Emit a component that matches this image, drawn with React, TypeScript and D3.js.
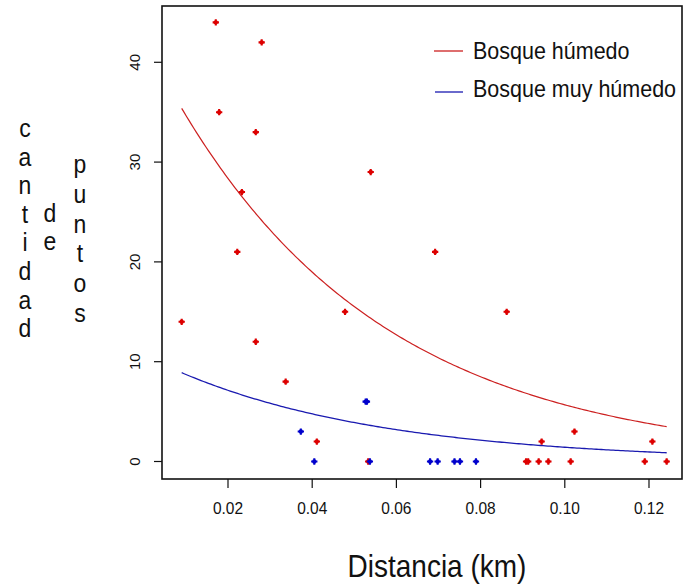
import React from "react";
import * as d3 from "d3";

// Data
const redX = [0.009, 0.0171, 0.0179, 0.0222, 0.0233, 0.0266, 0.0266, 0.028, 0.0337, 0.0411, 0.0478, 0.0533, 0.0539, 0.0692, 0.0862, 0.0908, 0.0913, 0.0938, 0.0945, 0.0961, 0.1014, 0.1023, 0.119, 0.1208, 0.1242];
const redY = [14, 44, 35, 21, 27, 33, 12, 42, 8, 2, 15, 0, 29, 21, 15, 0, 0, 0, 2, 0, 0, 3, 0, 2, 0];
const blueX = [0.0373, 0.0405, 0.0527, 0.053, 0.0537, 0.068, 0.0698, 0.0738, 0.0751, 0.0789];
const blueY = [3, 0, 6, 6, 0, 0, 0, 0, 0, 0];

// fitted exponential models y = a * exp(-b x)
const redModel = { a: 42.4, b: 20.1 };
const blueModel = { a: 10.66, b: 20.1 };
const curveRange = [0.009, 0.1242];

const xTicks = [0.02, 0.04, 0.06, 0.08, 0.1, 0.12];
const xTickLabels = ["0.02", "0.04", "0.06", "0.08", "0.10", "0.12"];
const yTicks = [0, 10, 20, 30, 40];
const legendLabels = ["Bosque húmedo", "Bosque muy húmedo"];
const yTitleCols = ["cantidad", "de", "puntos"];
const xTitle = "Distancia (km)";

const RED = "#dd0000";
const RED_LINE = "#cc2020";
const BLUE = "#0000cc";
const BLUE_LINE = "#1a1ab0";
const FONT = "'Liberation Sans', Arial, sans-serif";
const SY = 1.12;

const W = 683, H = 586;
const box = { l: 162, r: 682, t: 6, b: 479 };
const xScale = d3.scaleLinear().domain([0.004323, 0.12784]).range([box.l, box.r]);
const yScale = d3.scaleLinear().domain([-1.754, 45.64]).range([box.b, box.t]);

function T({ x, y, size, anchor = "start", children }: any) {
  return (
    <text
      transform={`translate(${x},${y}) scale(1,${SY})`}
      fontSize={size}
      textAnchor={anchor}
      fontFamily={FONT}
      fill="#111"
    >
      {children}
    </text>
  );
}

function curve(m: { a: number; b: number }) {
  const xs = d3.range(0, 201).map((i) => curveRange[0] + ((curveRange[1] - curveRange[0]) * i) / 200);
  const line = d3
    .line<number>()
    .x((x) => xScale(x))
    .y((x) => yScale(m.a * Math.exp(-m.b * x)));
  return line(xs) || "";
}

const sym = d3.symbol().type(d3.symbolCross).size(22);

function Marker({ x, y, color }: any) {
  return (
    <g transform={`translate(${x},${y})`}>
      <path d={sym() || ""} fill={color} />
      <circle r={2.2} fill={color} />
    </g>
  );
}

export default function App() {
  const colX = [25, 50, 80];
  const colStart = [137, 222, 173];
  const colStep = [28.6, 28, 29.8];
  return (
    <svg width={W} height={H} style={{ position: "absolute", left: 0, top: 0, background: "#fff" }}>
      <rect x={0} y={0} width={W} height={H} fill="#fff" />
      {/* curves */}
      <path d={curve(redModel)} fill="none" stroke={RED_LINE} strokeWidth={1.2} />
      <path d={curve(blueModel)} fill="none" stroke={BLUE_LINE} strokeWidth={1.3} />
      {/* points */}
      {redX.map((x, i) => (
        <Marker key={"r" + i} x={xScale(x)} y={yScale(redY[i])} color={RED} />
      ))}
      {blueX.map((x, i) => (
        <Marker key={"b" + i} x={xScale(x)} y={yScale(blueY[i])} color={BLUE} />
      ))}
      {/* box */}
      <rect x={box.l} y={box.t} width={box.r - box.l} height={box.b - box.t} fill="none" stroke="#111" strokeWidth={1.6} />
      {/* x axis */}
      {xTicks.map((t, i) => (
        <g key={"xt" + i}>
          <line x1={xScale(t)} x2={xScale(t)} y1={box.b} y2={box.b + 9} stroke="#111" strokeWidth={1.2} />
          <T x={xScale(t)} y={514} size={15.5} anchor="middle">
            {xTickLabels[i]}
          </T>
        </g>
      ))}
      {/* y axis */}
      {yTicks.map((t, i) => (
        <g key={"yt" + i}>
          <line x1={box.l - 8} x2={box.l} y1={yScale(t)} y2={yScale(t)} stroke="#111" strokeWidth={1.2} />
          <text
            transform={`translate(140,${yScale(t)}) rotate(-90)`}
            fontSize={15}
            textAnchor="middle"
            fontFamily={FONT}
            fill="#111"
          >
            {String(t)}
          </text>
        </g>
      ))}
      {/* x title */}
      <T x={437} y={576.5} size={28} anchor="middle">
        {xTitle}
      </T>
      {/* y title (stacked letters) */}
      {yTitleCols.map((word, c) =>
        word.split("").map((ch, k) => (
          <T key={`yl${c}-${k}`} x={colX[c]} y={colStart[c] + k * colStep[c]} size={23} anchor="middle">
            {ch}
          </T>
        ))
      )}
      {/* legend */}
      <line x1={434} x2={463} y1={51} y2={51} stroke={RED_LINE} strokeWidth={1.3} />
      <line x1={435} x2={463} y1={92} y2={92} stroke={BLUE_LINE} strokeWidth={1.3} />
      <T x={473} y={59} size={21.5}>
        {legendLabels[0]}
      </T>
      <T x={473} y={97} size={21.5}>
        {legendLabels[1]}
      </T>
    </svg>
  );
}
